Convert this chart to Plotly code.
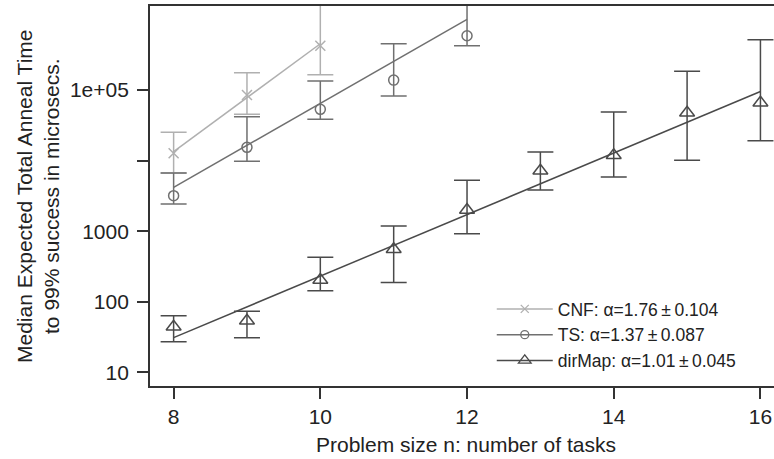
import plotly.graph_objects as go

# ---- data ----
n_cnf = [8, 9, 10]
cnf_med = [12700, 84900, 424000]
cnf_hi = [25100, 176000, 3000000]
cnf_lo = [6670, 45200, 165000]

n_ts = [8, 9, 10, 11, 12]
ts_med = [3180, 15400, 53200, 138000, 587000]
ts_hi = [6670, 41800, 134000, 453000, 3000000]
ts_lo = [2430, 9770, 38400, 82200, 424000]

n_dir = [8, 9, 10, 11, 12, 13, 14, 15, 16]
dir_med = [44.3, 53.8, 203, 553, 1995, 7180, 11900, 47600, 66100]
dir_hi = [63.4, 73.1, 426, 1180, 5250, 13200, 48700, 184000, 515000]
dir_lo = [27.2, 30.9, 143, 188, 920, 3830, 5850, 10100, 19100]

# fitted lines (end points)
fit_cnf_x = [8, 10]
fit_cnf_y = [13400, 452000]
fit_ts_x = [8, 12]
fit_ts_y = [4180, 1000000]
fit_dir_x = [8, 16]
fit_dir_y = [31, 95000]

labels = ["CNF: \u03b1=1.76\u2009\u00b1\u20090.104",
          "TS: \u03b1=1.37\u2009\u00b1\u20090.087",
          "dirMap: \u03b1=1.01\u2009\u00b1\u20090.045"]

ytick_vals = [10, 100, 1000, 10000, 100000]
ytick_text = ["10", "100", "1000", "", "1e+05"]
xtick_vals = [8, 10, 12, 14, 16]

# ---- styles ----
FONT = "Liberation Sans, Arial, Helvetica, sans-serif"
C_CNF = "#b0b0b0"
C_TS = "#707070"
C_DIR = "#4a4a4a"
AX = "#333333"

fig = go.Figure()

series = [
    (n_cnf, cnf_med, cnf_hi, cnf_lo, fit_cnf_x, fit_cnf_y, C_CNF, "x-thin-open", 10, labels[0]),
    (n_ts, ts_med, ts_hi, ts_lo, fit_ts_x, fit_ts_y, C_TS, "circle-open", 10, labels[1]),
    (n_dir, dir_med, dir_hi, dir_lo, fit_dir_x, fit_dir_y, C_DIR, "triangle-up-open", 13, labels[2]),
]

for xs, med, hi, lo, fx, fy, col, sym, sz, lab in series:
    fig.add_trace(go.Scatter(
        x=fx, y=fy, mode="lines", line=dict(color=col, width=1.5),
        showlegend=False, hoverinfo="skip"))
    fig.add_trace(go.Scatter(
        x=xs, y=med, mode="markers",
        marker=dict(symbol=sym, size=sz, color=col, line=dict(color=col, width=1.5)),
        error_y=dict(type="data", symmetric=False,
                     array=[h - m for h, m in zip(hi, med)],
                     arrayminus=[m - l for m, l in zip(med, lo)],
                     color=col, thickness=1.5, width=13),
        showlegend=False))
    fig.add_trace(go.Scatter(
        x=[None], y=[None], mode="lines+markers", name=lab,
        line=dict(color=col, width=1.5),
        marker=dict(symbol=sym, size=sz - 2, color=col, line=dict(color=col, width=1.3))))

# the reference plot box runs past the right edge of the 774 px picture,
# so the figure is made a little wider and the page clips it
fig.update_layout(
    width=790, height=459,
    margin=dict(l=150, r=0, t=6, b=73),
    paper_bgcolor="white", plot_bgcolor="white",
    font=dict(family=FONT, size=21, color="#222222"),
    showlegend=True,
    legend=dict(x=0.534, y=0.25, xanchor="left", yanchor="top",
                bgcolor="rgba(0,0,0,0)", font=dict(size=17.5, family=FONT, color="#222222"),
                itemwidth=56, tracegroupgap=0),
    xaxis=dict(range=[7.678, 16.403], tickvals=xtick_vals, ticks="outside", ticklen=11,
               tickwidth=1.5, tickcolor=AX, showline=True, linecolor=AX, linewidth=1.8,
               mirror=True, showgrid=False, zeroline=False, ticklabelstandoff=0,
               tickfont=dict(size=21), automargin=False),
    yaxis=dict(type="log", range=[0.806, 6.19], tickvals=ytick_vals, ticktext=ytick_text,
               ticks="outside", ticklen=11, tickwidth=1.5, tickcolor=AX, showline=True,
               linecolor=AX, linewidth=1.8, showgrid=False, zeroline=False,
               ticklabelstandoff=4, tickfont=dict(size=21), automargin=False),
    annotations=[
        dict(text="Problem size n: number of tasks", xref="paper", yref="paper",
             x=0.493, y=-0.155, xanchor="center", yanchor="middle", showarrow=False,
             font=dict(size=21, family=FONT, color="#222222")),
        dict(text="Median Expected Total Anneal Time<br>to 99% success in microsecs.",
             xref="paper", yref="paper", x=-0.175, y=0.5, xanchor="center",
             yanchor="middle", textangle=-90, showarrow=False,
             font=dict(size=21, family=FONT, color="#222222")),
    ],
)

fig.write_html("out.html", config={"displayModeBar": False},
               post_script="document.body.style.margin='0px';"
                           "document.documentElement.style.overflow='hidden';"
                           "document.body.style.overflow='hidden';")
